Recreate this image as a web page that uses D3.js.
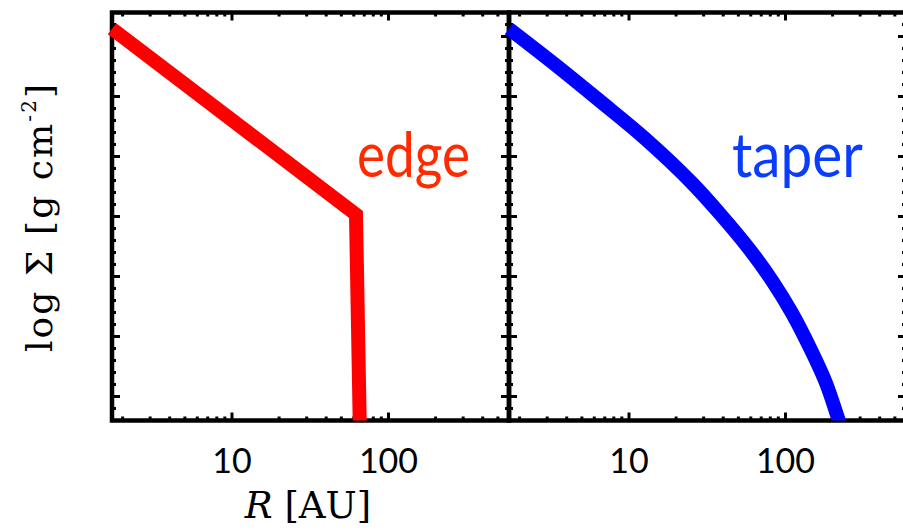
<!DOCTYPE html>
<html>
<head>
<meta charset="utf-8">
<script src="https://cdn.jsdelivr.net/npm/d3@7"></script>
<style>
  html, body { margin: 0; padding: 0; background: #fff; }
</style>
</head>
<body>
<svg id="mainsvg" width="903" height="530"></svg>
<script>
// radius range shown on both panels (AU)
const rDomain = [1.711, 589]
const rMajorTicks = [10, 100]
const rTickLabels = ['10', '100']
// log sigma range, ticks carry no labels
const sigmaDomain = [-1.7, 1.7]
const sigmaMajorTicks = [-1.5, -1, -0.5, 0, 0.5, 1, 1.5]

// sharp edge profile
const edgeR = [1.711, 62.0, 65.8]
const edgeLogSigma = [1.565, 0.017, -1.867]

// tapered profile
const taperR = [1.711, 3.366, 6.527, 12.65, 24.9, 38.7, 59.3, 83.2, 110, 147.7, 181.5, 216.5, 243.6]
const taperLogSigma = [1.565, 1.267, 0.9625, 0.65, 0.2875, 0.0125, -0.279, -0.546, -0.804, -1.129, -1.3875, -1.679, -1.879]

const panelWidth = 397
const frameTop = 12.5, frameBottom = 420.5

function drawPanel(svg, x0, rs, sigmas, color, label, labelColor, labelX, labelLen, name) {
    let x = d3.scaleLog().domain(rDomain).range([0, panelWidth])
    let y = d3.scaleLinear().domain(sigmaDomain).range([frameBottom, frameTop])

    const g = svg.append('g')
        .attr('transform', `translate(${x0},0)`)
        .attr('id', `panel${name}`)

    g.append('clipPath').attr('id', `clip${name}`)
        .append('rect')
        .attr('x', -20).attr('y', 0)
        .attr('width', panelWidth + 40).attr('height', frameBottom)

    // minor + major ticks on x (log)
    let minor = []
    for (let d = 1; d <= 1000; d *= 10) {
        for (let k = 2; k <= 9; k++) {
            let v = k * d
            if (v > rDomain[0] && v < rDomain[1]) minor.push(v)
        }
    }
    minor.forEach(v => {
        g.append('line').attr('x1', x(v)).attr('x2', x(v)).attr('y1', frameBottom).attr('y2', frameBottom - 4)
            .attr('stroke', 'black').attr('stroke-width', 3)
        g.append('line').attr('x1', x(v)).attr('x2', x(v)).attr('y1', frameTop).attr('y2', frameTop + 4)
            .attr('stroke', 'black').attr('stroke-width', 3)
    })
    rMajorTicks.forEach((v, i) => {
        g.append('line').attr('x1', x(v)).attr('x2', x(v)).attr('y1', frameBottom).attr('y2', frameBottom - 8)
            .attr('stroke', 'black').attr('stroke-width', 3)
        g.append('line').attr('x1', x(v)).attr('x2', x(v)).attr('y1', frameTop).attr('y2', frameTop + 8)
            .attr('stroke', 'black').attr('stroke-width', 3)
        g.append('text')
            .attr('x', x(v)).attr('y', 473)
            .attr('text-anchor', 'middle')
            .style('font-family', 'Lato, sans-serif')
            .style('font-size', '34px')
            .text(rTickLabels[i])
    })

    // y ticks, 5 minor intervals per major
    let yMinor = d3.range(-17, 18).map(d => d / 10)
    yMinor.forEach(v => {
        let isMajor = sigmaMajorTicks.some(m => Math.abs(m - v) < 1e-6)
        let len = isMajor ? 8 : 4
        g.append('line').attr('x1', 0).attr('x2', len).attr('y1', y(v)).attr('y2', y(v))
            .attr('stroke', 'black').attr('stroke-width', 3)
        g.append('line').attr('x1', panelWidth).attr('x2', panelWidth - len).attr('y1', y(v)).attr('y2', y(v))
            .attr('stroke', 'black').attr('stroke-width', 3)
    })

    g.append('rect')
        .attr('x', 0).attr('y', frameTop)
        .attr('width', panelWidth).attr('height', frameBottom - frameTop)
        .attr('fill', 'none')
        .attr('stroke', 'black')
        .attr('stroke-width', 4.5)

    let line = d3.line()
        .x(d => x(d[0]))
        .y(d => y(d[1]))
        .curve(name === 'taper' ? d3.curveCatmullRom.alpha(0.5) : d3.curveLinear)

    g.append('path')
        .datum(rs.map((r, i) => [r, sigmas[i]]))
        .attr('d', line)
        .attr('clip-path', `url(#clip${name})`)
        .attr('fill', 'none')
        .attr('stroke', color)
        .attr('stroke-width', 14)
        .attr('stroke-linejoin', 'miter')
        .attr('stroke-linecap', 'butt')

    g.append('text')
        .attr('x', labelX).attr('y', 177)
        .attr('textLength', labelLen)
        .attr('lengthAdjust', 'spacingAndGlyphs')
        .style('font-family', 'Lato, sans-serif')
        .style('font-size', '62px')
        .attr('fill', labelColor)
        .text(label)
}

const svg = d3.select('#mainsvg')

drawPanel(svg, 112, edgeR, edgeLogSigma, '#ff0000', 'edge', '#ff2a00', 357 - 112, 113, 'edge')
drawPanel(svg, 509, taperR, taperLogSigma, '#0000ff', 'taper', '#0a3cff', 732 - 509, 131, 'taper')

// axis titles
svg.append('text')
    .attr('x', 308).attr('y', 518)
    .attr('text-anchor', 'middle')
    .style('font-family', '"DejaVu Serif", serif')
    .style('font-size', '37px')
    .html('<tspan font-style="italic">R</tspan> [AU]')

svg.append('text')
    .attr('transform', 'translate(52,218) rotate(-90)')
    .attr('text-anchor', 'middle')
    .attr('textLength', 268)
    .attr('lengthAdjust', 'spacing')
    .style('font-family', '"DejaVu Serif", serif')
    .style('font-size', '36px')
    .html('log Σ [g cm<tspan font-size="20px" dy="-16">-2</tspan><tspan dy="16">]</tspan>')
</script>
</body>
</html>
